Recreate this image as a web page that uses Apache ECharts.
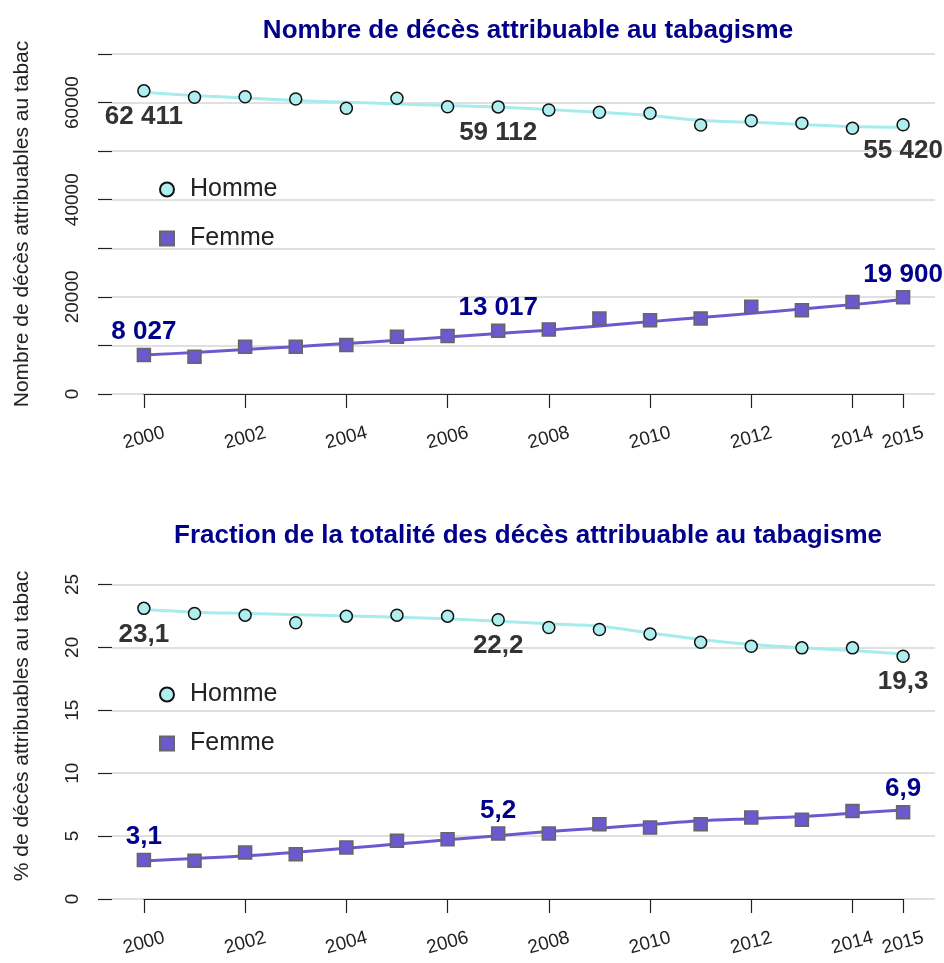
<!DOCTYPE html>
<html><head><meta charset="utf-8">
<script src="https://cdn.jsdelivr.net/npm/echarts@6/dist/echarts.min.js"></script>
<style>html,body{margin:0;padding:0;background:#fff}#c{width:944px;height:963px}</style>
</head><body><div id="c"></div>
<script>
const years = [2000,2001,2002,2003,2004,2005,2006,2007,2008,2009,2010,2011,2012,2013,2014,2015];
const hommeNombre = [62411,61085,61210,60740,58820,60880,59150,59112,58470,58000,57790,55380,56270,55730,54700,55420];
const femmeNombre = [8027,7670,9720,9720,10070,11770,11920,13017,13290,15550,15200,15550,17940,17260,18960,19900];
const hommeNombreTendance = [62110,61430,60960,60410,60060,59730,59380,59070,58560,58000,57320,56300,55950,55480,55070,54920];
const femmeNombreTendance = [8010,8550,9150,9750,10400,11050,11750,12450,13150,14000,14900,15750,16600,17500,18400,19450];
const hommePct = [23.1,22.69,22.56,21.95,22.48,22.56,22.48,22.2,21.58,21.42,21.07,20.41,20.09,19.96,19.96,19.3];
const femmePct = [3.1,3.05,3.69,3.56,4.09,4.62,4.75,5.2,5.2,5.95,5.68,5.95,6.47,6.29,7.0,6.9];
const hommePctTendance = [23.0,22.8,22.7,22.6,22.5,22.4,22.27,22.08,21.87,21.68,21.15,20.62,20.22,19.96,19.75,19.48];
const femmePctTendance = [3.03,3.22,3.42,3.72,4.03,4.37,4.7,5.03,5.36,5.63,5.92,6.21,6.38,6.55,6.82,7.08];
const labelYears = [2000,2007,2015];
const xTickLabels = [2000,2002,2004,2006,2008,2010,2012,2014,2015];
const yLabelsNombre = [0,20000,40000,60000];
const yLabelsPct = [0,5,10,15,20,25];
const titres = ['Nombre de décès attribuable au tabagisme','Fraction de la totalité des décès attribuable au tabagisme'];
const yNoms = ['Nombre de décès attribuables au tabac','% de décès attribuables au tabac'];

const FONT = 'Liberation Sans, Arial, sans-serif';
const fmtNombre = v => String(v).replace(/\B(?=(\d{3})+(?!\d))/g,' ');
const fmtPct = v => v.toFixed(1).replace('.',',');
const plain = v => String(v);

const HOMME_FILL = '#AFEEEE', HOMME_LINE = '#A6ECEC';
const FEMME_FILL = '#6A5ACD', FEMME_LINE = '#6A5ACD';

function pts(vals, fmt, color, offY) {
  return years.map((y,i) => {
    const item = {value:[y, vals[i]]};
    if (labelYears.includes(y)) {
      item.label = {show:true, position:'inside', offset:[0,offY], formatter: () => fmt(vals[i]),
        color: color, opacity:1, fontSize: 26, fontWeight:'bold', fontFamily: FONT};
    }
    return item;
  });
}

function blockSeries(ax, hv, fv, ht, ft, fmt) {
  return [
    {type:'line', name:'Homme tendance', xAxisIndex:ax, yAxisIndex:ax, data: years.map((y,i)=>[y,ht[i]]),
     smooth:0.3, showSymbol:false, lineStyle:{color:HOMME_LINE, width:3}, z:2, silent:true},
    {type:'line', name:'Femme tendance', xAxisIndex:ax, yAxisIndex:ax, data: years.map((y,i)=>[y,ft[i]]),
     smooth:0.3, showSymbol:false, lineStyle:{color:FEMME_LINE, width:3}, z:2, silent:true},
    {type:'scatter', name:'Homme', xAxisIndex:ax, yAxisIndex:ax, symbol:'circle', symbolSize:12,
     itemStyle:{color:HOMME_FILL, borderColor:'#111', borderWidth:1.5, opacity:1}, z:3,
     data: pts(hv, fmt, '#333333', 26)},
    {type:'scatter', name:'Femme', xAxisIndex:ax, yAxisIndex:ax, symbol:'rect', symbolSize:13,
     itemStyle:{color:FEMME_FILL, borderColor:'#666', borderWidth:1.5, opacity:1}, z:3,
     data: pts(fv, fmt, '#00008B', -23)}
  ];
}

const G = [
  {left:112, right:9, top:54, height:340},
  {left:144, width:759, top:54, height:340},
  {left:112, right:9, top:553, height:346},
  {left:144, width:759, top:553, height:346}
];

function xMain(gi){ return {gridIndex:gi, type:'value', min:1999.37, max:2015.63, show:false}; }
function xVisible(gi){
  return {gridIndex:gi, type:'value', min:2000, max:2015, offset:13,
    axisLine:{show:true, lineStyle:{color:'#222', width:1.2}},
    axisTick:{show:true, length:14, customValues:xTickLabels, lineStyle:{color:'#222', width:1.2}},
    axisLabel:{customValues:xTickLabels, formatter:plain, rotate:15, align:'center', verticalAlign:'middle', margin:31,
      fontSize:19, color:'#222', fontFamily:FONT},
    splitLine:{show:false}};
}
function yMain(gi, max, interval, labels, ticks, name){
  const t = {show:true, length:14, lineStyle:{color:'#222', width:1.2}};
  if (ticks) t.customValues = ticks;
  return {gridIndex:gi, type:'value', min:0, max:max, interval:interval,
    axisLine:{show:false},
    axisTick:t,
    axisLabel:{customValues:labels, formatter:plain, rotate:90, align:'center', verticalAlign:'middle', margin:39,
      fontSize:19, color:'#222', fontFamily:FONT},
    splitLine:{show:true, lineStyle:{color:'#d6d6d6', width:1.5}},
    name:name, nameLocation:'middle', nameGap:90,
    nameTextStyle:{fontSize:21, color:'#222', fontFamily:FONT, verticalAlign:'middle'}};
}
function yHidden(gi, max){ return {gridIndex:gi, type:'value', min:0, max:max, show:false}; }

const yTop = yMain(0, 70000, 10000, yLabelsNombre, null, yNoms[0]);
const yBot = yMain(2, 27.5, 2.5, yLabelsPct, yLabelsPct, yNoms[1]);

const legendCommon = {orient:'vertical', left:154, itemWidth:14, itemHeight:14, itemGap:24,
  textStyle:{fontSize:25, color:'#222', fontFamily:FONT, padding:[0,0,0,11]},
  data:[{name:'Homme', icon:'circle'},{name:'Femme', icon:'rect'}], selectedMode:false};

const option = {
  animation:false,
  backgroundColor:'#fff',
  title:[
    {text:titres[0], left:523, top:13, textAlign:'center',
     textStyle:{fontSize:26, fontWeight:'bold', color:'#00008B', fontFamily:FONT}},
    {text:titres[1], left:523, top:518, textAlign:'center',
     textStyle:{fontSize:26, fontWeight:'bold', color:'#00008B', fontFamily:FONT}}
  ],
  legend:[
    Object.assign({}, legendCommon, {top:172}),
    Object.assign({}, legendCommon, {top:677})
  ],
  grid:G,
  xAxis:[xMain(0), xVisible(1), xMain(2), xVisible(3)],
  yAxis:[yTop, yHidden(1,70000), yBot, yHidden(3,27.5)],
  series:[].concat(
    blockSeries(0, hommeNombre, femmeNombre, hommeNombreTendance, femmeNombreTendance, fmtNombre),
    blockSeries(2, hommePct, femmePct, hommePctTendance, femmePctTendance, fmtPct)
  )
};
const chart = echarts.init(document.getElementById('c'), null, {renderer:'canvas'});
chart.setOption(option);
</script></body></html>
